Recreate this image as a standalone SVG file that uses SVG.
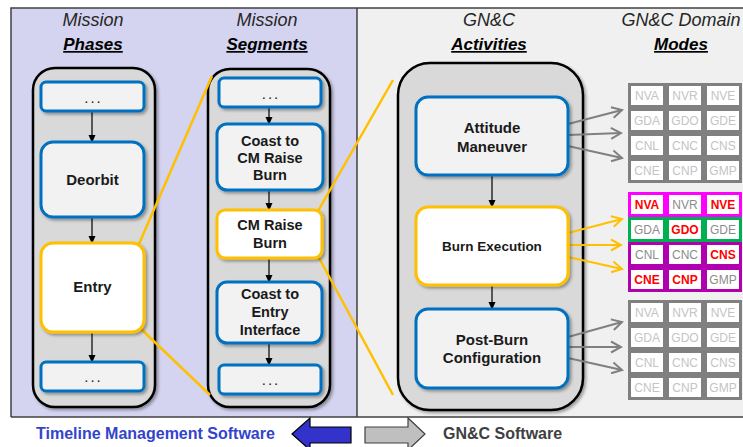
<svg xmlns="http://www.w3.org/2000/svg" width="743" height="447" viewBox="0 0 743 447">
<style>
.hdr{font-family:"Liberation Sans",Arial,sans-serif;font-size:18px;font-style:italic;fill:#262626;text-anchor:middle}
.hdrb{font-family:"Liberation Sans",Arial,sans-serif;font-size:17px;font-style:italic;font-weight:bold;fill:#000;text-anchor:middle;text-decoration:underline}
.cont{fill:#d9d9d9;stroke:#000;stroke-width:2.5}
.blue{fill:#f2f2f2;stroke:#0070c0;stroke-width:3}
.yel{fill:#fff;stroke:#ffc000;stroke-width:3}
.lbl{font-family:"Liberation Sans",Arial,sans-serif;font-weight:bold;font-size:15px;fill:#1a1a1a;text-anchor:middle}
.dots{font-family:"Liberation Sans",Arial,sans-serif;font-size:15px;fill:#1a1a1a;text-anchor:middle;letter-spacing:2px}
.l2{font-size:14.5px}
.flow{stroke:#000;stroke-width:1.2;fill:none}
.zoom{stroke:#ffc000;stroke-width:2.5;fill:none}
.ga{stroke:#808080;stroke-width:2;fill:none}
.ya{stroke:#ffc000;stroke-width:2;fill:none}
.cell{fill:#fff;stroke:#808080;stroke-width:3}
.ct{font-family:"Liberation Sans",Arial,sans-serif;font-size:12px;fill:#c4c4c4;text-anchor:middle}
.cg{fill:#8c8c8c}
.cr{fill:#ff0000;font-weight:bold}
.mg{stroke:#ff00ff}
.gr{stroke:#00b050}
.pu{stroke:#b000b0}
</style>
<defs>
<filter id="sh" x="-10%" y="-10%" width="130%" height="130%">
<feDropShadow dx="2" dy="2" stdDeviation="1.5" flood-color="#000" flood-opacity="0.35"/>
</filter>
<marker id="ah" markerWidth="8" markerHeight="8" refX="7" refY="4" orient="auto" markerUnits="userSpaceOnUse">
<path d="M0,0.5 L8,4 L0,7.5 Z" fill="#000"/>
</marker>
<marker id="gh" markerWidth="14" markerHeight="14" refX="12" refY="7" orient="auto" markerUnits="userSpaceOnUse">
<path d="M2,1.5 L12,7 L2,12.5" fill="none" stroke="#808080" stroke-width="2"/>
</marker>
<marker id="yh" markerWidth="14" markerHeight="14" refX="12" refY="7" orient="auto" markerUnits="userSpaceOnUse">
<path d="M2,1.5 L12,7 L2,12.5" fill="none" stroke="#ffc000" stroke-width="2"/>
</marker>
</defs>

<!-- background panels -->
<rect x="0" y="0" width="743" height="447" fill="#fff"/>
<rect x="11" y="8" width="346" height="409" fill="#d4d4f0"/>
<rect x="357" y="8" width="386" height="409" fill="#f0f0f0"/>
<path d="M11,417 L11,8 L743,8 M11,417 L743,417 M357,8 L357,417" stroke="#404040" stroke-width="1.5" fill="none"/>

<!-- headers -->
<text class="hdr" x="93" y="26">Mission</text>
<text class="hdrb" x="93" y="50">Phases</text>
<text class="hdr" x="267" y="26">Mission</text>
<text class="hdrb" x="267" y="50">Segments</text>
<text class="hdr" x="489" y="26">GN&amp;C</text>
<text class="hdrb" x="489" y="50">Activities</text>
<text class="hdr" x="681" y="26">GN&amp;C Domain</text>
<text class="hdrb" x="681" y="50">Modes</text>

<!-- containers -->
<g id="phases-container"><rect class="cont" x="33" y="68" width="122" height="339" rx="22" filter="url(#sh)"/></g>
<g id="segments-container"><rect class="cont" x="208" y="69" width="122" height="338" rx="22" filter="url(#sh)"/></g>
<g id="activities-container"><rect class="cont" x="398" y="63" width="185" height="347" rx="32" filter="url(#sh)"/></g>

<!-- zoom lines and connectors -->
<g id="connectors">
<line class="zoom" x1="139" y1="244" x2="212" y2="76"/>
<line class="zoom" x1="140" y1="328" x2="210" y2="395"/>
<line class="zoom" x1="318" y1="211" x2="393" y2="80"/>
<line class="zoom" x1="318" y1="256" x2="393" y2="395"/>

<line class="flow" x1="92" y1="111" x2="92" y2="142" marker-end="url(#ah)"/>
<line class="flow" x1="92" y1="217" x2="92" y2="243" marker-end="url(#ah)"/>
<line class="flow" x1="92" y1="332" x2="92" y2="362" marker-end="url(#ah)"/>
<line class="flow" x1="269" y1="107" x2="269" y2="124" marker-end="url(#ah)"/>
<line class="flow" x1="269" y1="190" x2="269" y2="210" marker-end="url(#ah)"/>
<line class="flow" x1="269" y1="258" x2="269" y2="282" marker-end="url(#ah)"/>
<line class="flow" x1="269" y1="343" x2="269" y2="365" marker-end="url(#ah)"/>
<line class="flow" x1="492" y1="175" x2="492" y2="207" marker-end="url(#ah)"/>
<line class="flow" x1="492" y1="285" x2="492" y2="309" marker-end="url(#ah)"/>

<line class="ga" x1="568" y1="124" x2="622" y2="110" marker-end="url(#gh)"/>
<line class="ga" x1="568" y1="135" x2="621" y2="133" marker-end="url(#gh)"/>
<line class="ga" x1="568" y1="146" x2="622" y2="158" marker-end="url(#gh)"/>
<line class="ya" x1="568" y1="233" x2="622" y2="219" marker-end="url(#yh)"/>
<line class="ya" x1="568" y1="245" x2="621" y2="245" marker-end="url(#yh)"/>
<line class="ya" x1="568" y1="257" x2="622" y2="269" marker-end="url(#yh)"/>
<line class="ga" x1="568" y1="337" x2="622" y2="322" marker-end="url(#gh)"/>
<line class="ga" x1="568" y1="347" x2="621" y2="347" marker-end="url(#gh)"/>
<line class="ga" x1="568" y1="358" x2="622" y2="370" marker-end="url(#gh)"/>
</g>

<!-- phases -->
<g id="phase-top"><rect class="blue" x="41" y="82" width="103" height="29" rx="5" filter="url(#sh)"/><text class="dots" x="93.5" y="103">...</text></g>
<g id="phase-deorbit"><rect class="blue" x="41" y="142" width="103" height="75" rx="12" filter="url(#sh)"/><text class="lbl" x="92.5" y="185">Deorbit</text></g>
<g id="phase-entry"><rect class="yel" x="41" y="243" width="103" height="89" rx="12" filter="url(#sh)"/><text class="lbl" x="92.5" y="292">Entry</text></g>
<g id="phase-bottom"><rect class="blue" x="41" y="362" width="103" height="29" rx="5" filter="url(#sh)"/><text class="dots" x="93.5" y="382">...</text></g>

<!-- segments -->
<g id="seg-top"><rect class="blue" x="219" y="78" width="102" height="29" rx="5" filter="url(#sh)"/><text class="dots" x="271" y="99">...</text></g>
<g id="seg-coast-cm"><rect class="blue" x="217" y="124" width="106" height="66" rx="10" filter="url(#sh)"/><text class="lbl l2" x="270"><tspan x="270" y="146">Coast to</tspan><tspan x="270" y="163">CM Raise</tspan><tspan x="270" y="180">Burn</tspan></text></g>
<g id="seg-cm-raise"><rect class="yel" x="217" y="210" width="105" height="48" rx="8" filter="url(#sh)"/><text class="lbl l2" x="270"><tspan x="270" y="230">CM Raise</tspan><tspan x="270" y="248">Burn</tspan></text></g>
<g id="seg-coast-entry"><rect class="blue" x="217" y="282" width="105" height="61" rx="10" filter="url(#sh)"/><text class="lbl l2" x="270"><tspan x="270" y="299">Coast to</tspan><tspan x="270" y="317">Entry</tspan><tspan x="270" y="335">Interface</tspan></text></g>
<g id="seg-bottom"><rect class="blue" x="219" y="365" width="102" height="29" rx="5" filter="url(#sh)"/><text class="dots" x="271" y="385">...</text></g>

<!-- activities -->
<g id="act-attitude"><rect class="blue" x="416" y="97" width="152" height="78" rx="12" filter="url(#sh)"/><text class="lbl" x="492"><tspan x="492" y="133">Attitude</tspan><tspan x="492" y="152">Maneuver</tspan></text></g>
<g id="act-burn"><rect class="yel" x="416" y="207" width="152" height="78" rx="12" filter="url(#sh)"/><text class="lbl" x="492" y="251" style="font-size:13.5px">Burn Execution</text></g>
<g id="act-postburn"><rect class="blue" x="416" y="309" width="152" height="79" rx="12" filter="url(#sh)"/><text class="lbl" x="492"><tspan x="492" y="345">Post-Burn</tspan><tspan x="492" y="363">Configuration</tspan></text></g>

<!-- mode grid 1 -->
<g id="modes-attitude">
<rect class="cell" x="629.5" y="84.5" width="35" height="22"/><rect class="cell" x="667.5" y="84.5" width="35" height="22"/><rect class="cell" x="705.5" y="84.5" width="35" height="22"/>
<rect class="cell" x="629.5" y="109.5" width="35" height="22"/><rect class="cell" x="667.5" y="109.5" width="35" height="22"/><rect class="cell" x="705.5" y="109.5" width="35" height="22"/>
<rect class="cell" x="629.5" y="134.5" width="35" height="22"/><rect class="cell" x="667.5" y="134.5" width="35" height="22"/><rect class="cell" x="705.5" y="134.5" width="35" height="22"/>
<rect class="cell" x="629.5" y="159.5" width="35" height="22"/><rect class="cell" x="667.5" y="159.5" width="35" height="22"/><rect class="cell" x="705.5" y="159.5" width="35" height="22"/>
<text class="ct" x="647" y="100">NVA</text><text class="ct" x="685" y="100">NVR</text><text class="ct" x="723" y="100">NVE</text>
<text class="ct" x="647" y="125">GDA</text><text class="ct" x="685" y="125">GDO</text><text class="ct" x="723" y="125">GDE</text>
<text class="ct" x="647" y="150">CNL</text><text class="ct" x="685" y="150">CNC</text><text class="ct" x="723" y="150">CNS</text>
<text class="ct" x="647" y="175">CNE</text><text class="ct" x="685" y="175">CNP</text><text class="ct" x="723" y="175">GMP</text>
</g>

<!-- mode grid 2 -->
<g id="modes-burn">
<rect class="cell mg" x="629.5" y="193.5" width="35" height="22"/><rect class="cell mg" x="667.5" y="193.5" width="35" height="22"/><rect class="cell mg" x="705.5" y="193.5" width="35" height="22"/>
<rect class="cell gr" x="629.5" y="218.5" width="35" height="22"/><rect class="cell gr" x="667.5" y="218.5" width="35" height="22"/><rect class="cell gr" x="705.5" y="218.5" width="35" height="22"/>
<rect class="cell pu" x="629.5" y="243.5" width="35" height="22"/><rect class="cell pu" x="667.5" y="243.5" width="35" height="22"/><rect class="cell pu" x="705.5" y="243.5" width="35" height="22"/>
<rect class="cell pu" x="629.5" y="268.5" width="35" height="22"/><rect class="cell pu" x="667.5" y="268.5" width="35" height="22"/><rect class="cell pu" x="705.5" y="268.5" width="35" height="22"/>
<text class="ct cr" x="647" y="209">NVA</text><text class="ct cg" x="685" y="209">NVR</text><text class="ct cr" x="723" y="209">NVE</text>
<text class="ct cg" x="647" y="234">GDA</text><text class="ct cr" x="685" y="234">GDO</text><text class="ct cg" x="723" y="234">GDE</text>
<text class="ct cg" x="647" y="259">CNL</text><text class="ct cg" x="685" y="259">CNC</text><text class="ct cr" x="723" y="259">CNS</text>
<text class="ct cr" x="647" y="284">CNE</text><text class="ct cr" x="685" y="284">CNP</text><text class="ct cg" x="723" y="284">GMP</text>
</g>

<!-- mode grid 3 -->
<g id="modes-postburn">
<rect class="cell" x="629.5" y="301.5" width="35" height="22"/><rect class="cell" x="667.5" y="301.5" width="35" height="22"/><rect class="cell" x="705.5" y="301.5" width="35" height="22"/>
<rect class="cell" x="629.5" y="326.5" width="35" height="22"/><rect class="cell" x="667.5" y="326.5" width="35" height="22"/><rect class="cell" x="705.5" y="326.5" width="35" height="22"/>
<rect class="cell" x="629.5" y="351.5" width="35" height="22"/><rect class="cell" x="667.5" y="351.5" width="35" height="22"/><rect class="cell" x="705.5" y="351.5" width="35" height="22"/>
<rect class="cell" x="629.5" y="376.5" width="35" height="22"/><rect class="cell" x="667.5" y="376.5" width="35" height="22"/><rect class="cell" x="705.5" y="376.5" width="35" height="22"/>
<text class="ct" x="647" y="317">NVA</text><text class="ct" x="685" y="317">NVR</text><text class="ct" x="723" y="317">NVE</text>
<text class="ct" x="647" y="342">GDA</text><text class="ct" x="685" y="342">GDO</text><text class="ct" x="723" y="342">GDE</text>
<text class="ct" x="647" y="367">CNL</text><text class="ct" x="685" y="367">CNC</text><text class="ct" x="723" y="367">CNS</text>
<text class="ct" x="647" y="392">CNE</text><text class="ct" x="685" y="392">CNP</text><text class="ct" x="723" y="392">GMP</text>
</g>

<!-- bottom legend -->
<g id="legend">
<text x="36" y="439" style="font-family:'Liberation Sans',Arial,sans-serif;font-weight:bold;font-size:16px;fill:#3344cc">Timeline Management Software</text>
<polygon points="292,434 310,418 310,427 351,427 351,443 310,443 310,450" fill="#3333cc" stroke="#000" stroke-width="1.2"/>
<polygon points="365,427 408,427 408,418 425,434 408,450 408,443 365,443" fill="#bfbfbf" stroke="#404040" stroke-width="1.2"/>
<text x="443" y="439" style="font-family:'Liberation Sans',Arial,sans-serif;font-weight:bold;font-size:16px;fill:#404040">GN&amp;C Software</text>
</g>
</svg>
